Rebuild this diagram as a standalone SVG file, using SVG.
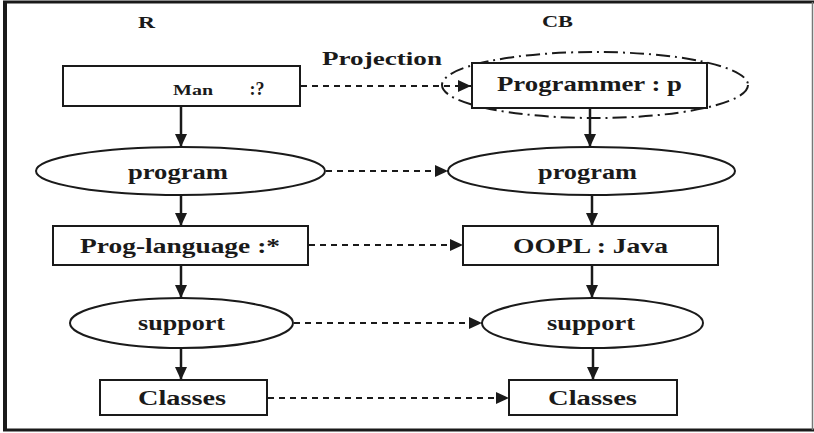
<svg xmlns="http://www.w3.org/2000/svg" width="814" height="433" viewBox="0 0 814 433">
  <style>
    .box { fill: #fff; stroke: #1a1a1a; stroke-width: 2; }
    .oval { fill: #fff; stroke: #1a1a1a; stroke-width: 2; }
    .lbl { font-family: "Liberation Serif", "Times New Roman", serif; font-weight: bold; fill: #1a1a1a; text-anchor: middle; }
    .flow { stroke: #1a1a1a; stroke-width: 2.5; fill: none; }
    .proj { stroke: #1a1a1a; stroke-width: 2; fill: none; stroke-dasharray: 6 5; }
  </style>
  <defs>
    <marker id="head" markerUnits="userSpaceOnUse" markerWidth="14" markerHeight="14" viewBox="0 0 14 14" refX="13" refY="7" orient="auto">
      <path d="M0,1 L13,7 L0,13 Z" fill="#1a1a1a"/>
    </marker>
  </defs>

  <!-- frame -->
  <rect x="0" y="0" width="814" height="433" fill="#fff"/>
  <g id="frame" fill="none">
    <line x1="5" y1="1" x2="5" y2="431" stroke="#1a1a1a" stroke-width="4"/>
    <line x1="3" y1="2" x2="814" y2="2" stroke="#1a1a1a" stroke-width="3"/>
    <line x1="3" y1="430" x2="814" y2="430" stroke="#1a1a1a" stroke-width="3"/>
    <line x1="812.5" y1="2" x2="812.5" y2="430" stroke="#777" stroke-width="1.5"/>
  </g>

  <!-- column headings -->
  <text class="lbl" x="146.5" y="28" font-size="16" textLength="17" lengthAdjust="spacingAndGlyphs">R</text>
  <text class="lbl" x="557.5" y="27" font-size="16" textLength="31" lengthAdjust="spacingAndGlyphs">CB</text>
  <text class="lbl" x="382" y="65" font-size="19" textLength="120" lengthAdjust="spacingAndGlyphs">Projection</text>

  <!-- connectors -->
  <g id="connectors">
    <line class="flow" x1="181" y1="106" x2="181" y2="147" marker-end="url(#head)"/>
    <line class="flow" x1="181" y1="195" x2="181" y2="226" marker-end="url(#head)"/>
    <line class="flow" x1="181" y1="265" x2="181" y2="298" marker-end="url(#head)"/>
    <line class="flow" x1="181" y1="348" x2="181" y2="380" marker-end="url(#head)"/>
    <line class="flow" x1="590" y1="108" x2="590" y2="147" marker-end="url(#head)"/>
    <line class="flow" x1="592" y1="195" x2="592" y2="226" marker-end="url(#head)"/>
    <line class="flow" x1="592" y1="265" x2="592" y2="298" marker-end="url(#head)"/>
    <line class="flow" x1="593" y1="348" x2="593" y2="380" marker-end="url(#head)"/>
    <line class="proj" x1="301" y1="86" x2="471" y2="86" marker-end="url(#head)"/>
    <line class="proj" x1="326" y1="171" x2="448" y2="171" marker-end="url(#head)"/>
    <line class="proj" x1="309" y1="245" x2="463" y2="245" marker-end="url(#head)"/>
    <line class="proj" x1="294" y1="323" x2="482" y2="323" marker-end="url(#head)"/>
    <line class="proj" x1="268" y1="398" x2="509" y2="398" marker-end="url(#head)"/>
  </g>

  <!-- left column (R) -->
  <g id="man">
    <rect class="box" x="63" y="66" width="237" height="40"/>
    <text class="lbl" x="193" y="95" font-size="15" textLength="40" lengthAdjust="spacingAndGlyphs">Man</text>
    <text class="lbl" x="257" y="95" font-size="18" font-weight="normal">:?</text>
  </g>
  <g id="program-r">
    <ellipse class="oval" cx="180.5" cy="171" rx="144.5" ry="24"/>
    <text class="lbl" x="178" y="179" font-size="20" textLength="100" lengthAdjust="spacingAndGlyphs">program</text>
  </g>
  <g id="prog-language">
    <rect class="box" x="53" y="226" width="255" height="39"/>
    <text class="lbl" x="180" y="253" font-size="20" textLength="200" lengthAdjust="spacingAndGlyphs">Prog-language :*</text>
  </g>
  <g id="support-r">
    <ellipse class="oval" cx="181.5" cy="323" rx="111.5" ry="25"/>
    <text class="lbl" x="181.5" y="330" font-size="20" textLength="87" lengthAdjust="spacingAndGlyphs">support</text>
  </g>
  <g id="classes-r">
    <rect class="box" x="100" y="380" width="167" height="35"/>
    <text class="lbl" x="182" y="405" font-size="20" textLength="88" lengthAdjust="spacingAndGlyphs">Classes</text>
  </g>

  <!-- right column (CB) -->
  <g id="programmer">
    <ellipse cx="595" cy="85" rx="153" ry="33" fill="none" stroke="#1a1a1a" stroke-width="2" stroke-dasharray="14 5 2 5"/>
    <rect class="box" x="472" y="63" width="235" height="45" fill="none"/>
    <text class="lbl" x="589.5" y="91" font-size="21" textLength="185" lengthAdjust="spacingAndGlyphs">Programmer : p</text>
  </g>
  <g id="program-cb">
    <ellipse class="oval" cx="591.5" cy="171" rx="143.5" ry="24"/>
    <text class="lbl" x="587.5" y="179" font-size="20" textLength="99" lengthAdjust="spacingAndGlyphs">program</text>
  </g>
  <g id="oopl">
    <rect class="box" x="463" y="226" width="255" height="39"/>
    <text class="lbl" x="590.5" y="253" font-size="20" textLength="155" lengthAdjust="spacingAndGlyphs">OOPL : Java</text>
  </g>
  <g id="support-cb">
    <ellipse class="oval" cx="592.5" cy="323" rx="110.5" ry="25"/>
    <text class="lbl" x="591" y="330" font-size="20" textLength="88" lengthAdjust="spacingAndGlyphs">support</text>
  </g>
  <g id="classes-cb">
    <rect class="box" x="509" y="380" width="168" height="35"/>
    <text class="lbl" x="592.5" y="405" font-size="20" textLength="89" lengthAdjust="spacingAndGlyphs">Classes</text>
  </g>
</svg>
